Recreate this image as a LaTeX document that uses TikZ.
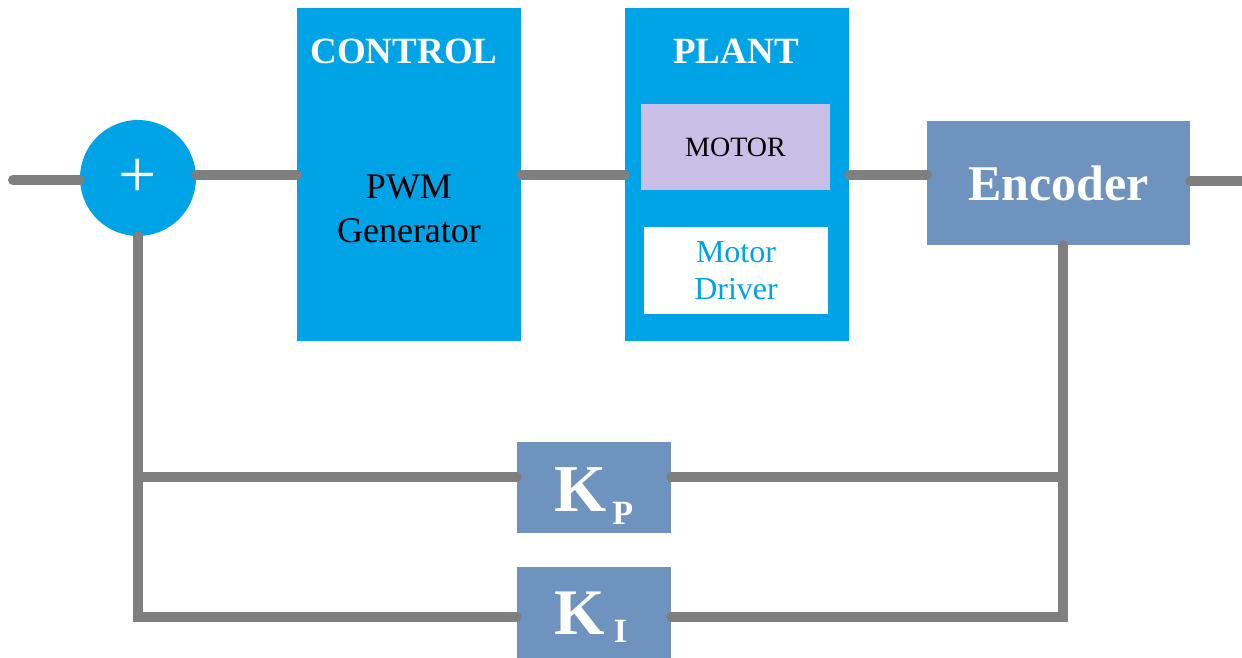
\documentclass[tikz,border=0pt]{standalone}
\usepackage{fontspec}
\setmainfont{Liberation Serif}
\definecolor{skyB}{HTML}{00A3E6}
\definecolor{slateB}{HTML}{6F93BF}
\definecolor{lavB}{HTML}{C8BFE6}
\definecolor{wireG}{HTML}{7F7F7F}
\tikzset{
  wire/.style={draw=wireG, line width=10pt, line cap=round, line join=miter},
  bigbox/.style={draw=none, fill=skyB, rectangle, inner sep=0pt},
  slatebox/.style={draw=none, fill=slateB, rectangle, inner sep=0pt, text=white},
  ttl/.style={text=white, font=\bfseries\fontsize{37}{40}\selectfont, inner sep=0pt}
}
\begin{document}
\begin{tikzpicture}[x=1pt,y=-1pt]
\useasboundingbox (0,0) rectangle (1242,657);
% nodes
\node[circle, fill=skyB, draw=none, minimum size=116pt, inner sep=0pt, text=white,
      font=\fontsize{68}{68}\selectfont] (sum) at (138,178) {+};
\node[bigbox, minimum width=224pt, minimum height=333pt] (ctrl) at (409,174.5) {};
\node[bigbox, minimum width=224pt, minimum height=333pt] (plant) at (737,174.5) {};
\node[ttl] (ctrlT) at (404,51) {CONTROL};
\node[ttl] (plantT) at (736,51) {PLANT};
\node[align=center, font=\fontsize{36}{44}\selectfont, inner sep=0pt] (pwm) at (409,209) {PWM\\Generator};
\node[rectangle, fill=lavB, draw=none, minimum width=189pt, minimum height=86pt,
      inner sep=0pt, font=\fontsize{28}{28}\selectfont] (motor) at (735.5,147) {MOTOR};
\node[rectangle, fill=white, draw=none, minimum width=184pt, minimum height=87pt,
      inner sep=0pt, align=center, text=skyB, font=\fontsize{32}{37}\selectfont] (driver) at (736,270.5) {Motor\\Driver};
\node[slatebox, minimum width=263pt, minimum height=124pt,
      font=\bfseries\fontsize{50}{50}\selectfont] (enc) at (1058.5,183) {Encoder};
\node[slatebox, minimum width=154pt, minimum height=91pt] (kp) at (594,487.5) {};
\node[slatebox, minimum width=154pt, minimum height=100pt] (ki) at (594,617) {};
\node[anchor=base west, inner sep=0pt, text=white, font=\bfseries] (kpT) at (554,511)
  {\fontsize{67}{67}\selectfont K\hspace{6pt}\raisebox{-13pt}{\fontsize{34}{34}\selectfont P}};
\node[anchor=base west, inner sep=0pt, text=white, font=\bfseries] (kiT) at (554,634)
  {\fontsize{65}{65}\selectfont K\hspace{9pt}\raisebox{-8pt}{\fontsize{34}{34}\selectfont I}};
\coordinate (in) at (13,180);
\coordinate (out) at (1242,181);
\coordinate (kpL) at ([yshift=10.5pt]kp.west);
\coordinate (kpR) at ([yshift=10.5pt]kp.east);
\coordinate (encS) at ([xshift=4.5pt]enc.south);
% connectors
\draw[wire] (in) -- (in -| sum.west);
\draw[wire] (sum.east |- ctrl.west) -- (ctrl.west);
\draw[wire] (ctrl.east) -- (plant.west);
\draw[wire] (plant.east) -- (plant.east -| enc.west);
\draw[wire] (enc.east |- out) -- (out);
\draw[wire] (sum.south) -- (sum.south |- ki.west) -- (ki.west);
\draw[wire] (sum.south |- kpL) -- (kpL);
\draw[wire] (kpR) -- (kpR -| encS);
\draw[wire] (ki.east) -- (ki.east -| encS) -- (encS);
\end{tikzpicture}
\end{document}
